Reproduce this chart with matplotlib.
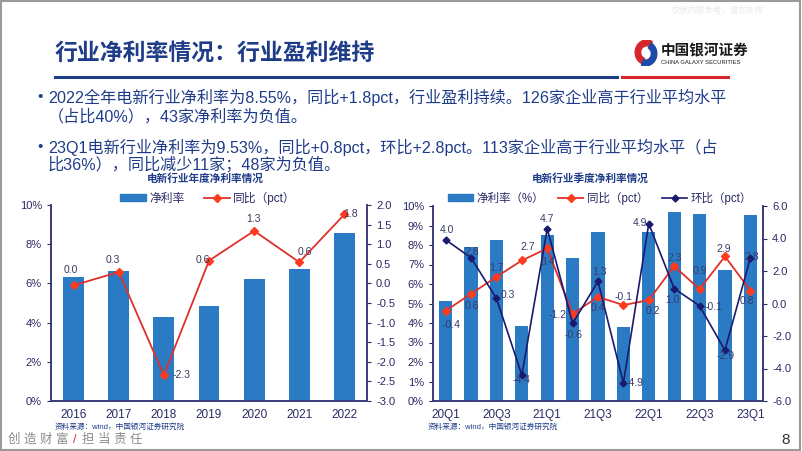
import numpy as np
import matplotlib.pyplot as plt
from matplotlib.lines import Line2D
from matplotlib.patches import Rectangle, Wedge, Patch

plt.rcParams['font.family'] = ['Liberation Sans', 'Noto Sans CJK SC', 'DejaVu Sans']

# annual data
years = ['2016', '2017', '2018', '2019', '2020', '2021', '2022']
year_margin = [6.34, 6.63, 4.29, 4.87, 6.22, 6.76, 8.55]
year_yoy = [-0.05, 0.29, -2.34, 0.58, 1.34, 0.54, 1.76]
year_yoy_text = ['0.0', '0.3', '-2.3', '0.6', '1.3', '0.6', '1.8']

# quarterly data
quarters = ['20Q1', '20Q2', '20Q3', '20Q4', '21Q1', '21Q2', '21Q3',
            '21Q4', '22Q1', '22Q2', '22Q3', '22Q4', '23Q1']
q_margin = [5.12, 7.91, 8.24, 3.85, 8.49, 7.31, 8.66, 3.77, 8.68, 9.67, 9.57, 6.70, 9.53]
q_yoy = [-0.45, 0.60, 1.64, 2.65, 3.39, -0.64, 0.41, -0.10, 0.21, 2.30, 0.88, 2.90, 0.80]
q_yoy_text = ['-0.4', '0.6', '1.7', '2.7', '3.4', '-0.6', '0.4', '-0.1', '0.2', '2.3', '0.9', '2.9', '0.8']
q_qoq = [3.92, 2.81, 0.31, -4.40, 4.60, -1.23, 1.36, -4.89, 4.91, 0.92, -0.14, -2.88, 2.79]
q_qoq_text = ['4.0', '2.8', '0.3', '-4.4', '4.7', '-1.2', '1.3', '-4.9', '4.9', '1.0', '-0.1', '-2.9', '2.8']

# label offsets in pixels (dx, dy), dy positive = up
year_off = [(-3, 15), (-6, 12), (18, 0), (-6, 1), (-1, 12), (6, 10), (6, 0)]
yoy_off = [(6, -14), (1, -12), (0, 9), (6, 13), (1, -14), (1, -21), (0, -11),
           (0, 8), (4, -11), (1, 8), (0, 18), (-1, 7), (-3, -10)]
qoq_off = [(1, 10), (1, 6), (11, 3), (0, -5), (0, 10), (-15, 8), (1, 9),
           (11, 0), (-9, 1), (-2, -11), (14, -1), (1, -6), (1, 1)]

W, H = 802, 451
navy = '#1F3C88'
axc = '#3B3B7A'
txt = '#2A2A66'
bar_c = '#2B7BC4'
red = '#E0302A'
dark = '#1A1A6E'


def fx(x):
    return x / W


def fy(y):
    return 1 - y / H


fig = plt.figure(figsize=(8.02, 4.51), dpi=100)

# slide frame
fig.add_artist(Rectangle((0.001, 0.002), 0.997, 0.995, transform=fig.transFigure,
                         fill=False, edgecolor='#9A9A9A', lw=1.5))

fig.text(fx(718), fy(11), '仅供内部参考，请勿外传', fontsize=6, color='#E8E8E8', ha='center', va='center')

# title and header lines
fig.text(fx(55), fy(53), '行业净利率情况：行业盈利维持', fontsize=16.5, fontweight='bold',
         color=navy, va='center')
fig.add_artist(Line2D([fx(55), fx(617)], [fy(77), fy(77)], color=navy, lw=2.2))
fig.add_artist(Line2D([fx(622), fx(728)], [fy(77), fy(77)], color='#D7262B', lw=2.2))

# logo
lax = fig.add_axes([fx(634), fy(66), fx(24), 26 / H])
lax.set_xlim(-1, 1)
lax.set_ylim(-1, 1)
lax.axis('off')
lax.add_patch(Wedge((0.05, 0.05), 0.95, 60, 250, width=0.45, color='#D7262B'))
lax.add_patch(Wedge((-0.05, -0.05), 0.95, 250, 420, width=0.45, color='#1F4AA8'))
fig.text(fx(661), fy(51), '中国银河证券', fontsize=10.5, fontweight='bold', color='#1A1A1A', va='center')
fig.text(fx(661), fy(62), 'CHINA GALAXY SECURITIES', fontsize=4.2, color='#1A1A1A', va='center')

# bullets
bullet_lines = [
    (97, True, '2022全年电新行业净利率为8.55%，同比+1.8pct，行业盈利持续。126家企业高于行业平均水平'),
    (117, False, '（占比40%），43家净利率为负值。'),
    (147, True, '23Q1电新行业净利率为9.53%，同比+0.8pct，环比+2.8pct。113家企业高于行业平均水平（占'),
    (164, False, '比36%），同比减少11家；48家为负值。'),
]
for y, has_bullet, s in bullet_lines:
    if has_bullet:
        fig.text(fx(40), fy(y), '•', fontsize=11, color=navy, va='center', ha='center')
    fig.text(fx(48), fy(y), s, fontsize=11.6, color=navy, va='center')

# chart titles
fig.text(fx(205), fy(178), '电新行业年度净利率情况', fontsize=7.7, fontweight='bold', color=navy,
         ha='center', va='center')
fig.text(fx(590), fy(178), '电新行业季度净利率情况', fontsize=7.7, fontweight='bold', color=navy,
         ha='center', va='center')


def style_axes(ax, ax2):
    for a in (ax, ax2):
        a.spines['top'].set_visible(False)
        for s in ('left', 'right', 'bottom'):
            a.spines[s].set_color(axc)
            a.spines[s].set_linewidth(1.2)
        a.tick_params(colors=txt, labelsize=8, length=3, width=0.8)
    ax.tick_params(axis='x', length=0, pad=6, labelsize=8.5)


# ---------- left chart: annual ----------
ax1 = fig.add_axes([fx(51), fy(401), fx(367 - 51), (401 - 205) / H])
x1 = np.arange(len(years))
ax1.bar(x1, year_margin, width=0.46, color=bar_c, zorder=2)
ax1.set_ylim(0, 10)
ax1.set_yticks(np.arange(0, 11, 2))
ax1.set_yticklabels([f'{v}%' for v in range(0, 11, 2)])
ax1.set_xlim(-0.5, len(years) - 0.5)
ax1.set_xticks(x1)
ax1.set_xticklabels(years)
ax1b = ax1.twinx()
ax1b.plot(x1, year_yoy, color=red, lw=1.3, marker='D', ms=4.5, mfc='#FF3B1F', mec='#FF3B1F', zorder=3)
ax1b.set_ylim(-3, 2)
ax1b.set_yticks(np.arange(-3, 2.01, 0.5))
ax1b.set_yticklabels([f'{v:.1f}' for v in np.arange(-3, 2.01, 0.5)])
style_axes(ax1, ax1b)
for xi, yi, s, off in zip(x1, year_yoy, year_yoy_text, year_off):
    ax1b.annotate(s, (xi, yi), xytext=off, textcoords='offset pixels', ha='center', va='center',
                  fontsize=7.5, color='#3A3A5A')

fig.legend(handles=[Patch(color=bar_c, label='净利率'),
                    Line2D([], [], color=red, lw=1.3, marker='D', ms=4, mfc='#FF3B1F', mec='#FF3B1F',
                           label='同比（pct）')],
           loc='center', bbox_to_anchor=(fx(208), fy(198)), ncol=2, frameon=False, fontsize=8.5,
           handlelength=2.2, handleheight=0.5, handletextpad=0.3, columnspacing=1.6, labelcolor=txt)

# ---------- right chart: quarterly ----------
ax2 = fig.add_axes([fx(433), fy(401), fx(763 - 433), (401 - 206) / H])
x2 = np.arange(len(quarters))
ax2.bar(x2, q_margin, width=0.52, color=bar_c, zorder=2)
ax2.set_ylim(0, 10)
ax2.set_yticks(np.arange(0, 11, 1))
ax2.set_yticklabels([f'{v}%' for v in range(0, 11)])
ax2.set_xlim(-0.5, len(quarters) - 0.5)
ax2.set_xticks(x2[::2])
ax2.set_xticklabels(quarters[::2])
ax2b = ax2.twinx()
ax2b.plot(x2, q_yoy, color=red, lw=1.3, marker='D', ms=4.5, mfc='#FF3B1F', mec='#FF3B1F', zorder=3)
ax2b.plot(x2, q_qoq, color=dark, lw=1.2, marker='D', ms=3.5, mfc=dark, mec=dark, zorder=3)
ax2b.set_ylim(-6, 6)
ax2b.set_yticks(np.arange(-6, 6.01, 2))
ax2b.set_yticklabels([f'{v:.1f}' for v in np.arange(-6, 6.01, 2)])
style_axes(ax2, ax2b)
for xi, yi, s, off in zip(x2, q_yoy, q_yoy_text, yoy_off):
    ax2b.annotate(s, (xi, yi), xytext=off, textcoords='offset pixels', ha='center', va='center',
                  fontsize=7.5, color='#3A3A6A')
for xi, yi, s, off in zip(x2, q_qoq, q_qoq_text, qoq_off):
    ax2b.annotate(s, (xi, yi), xytext=off, textcoords='offset pixels', ha='center', va='center',
                  fontsize=7.5, color='#3A3A6A')

fig.legend(handles=[Patch(color=bar_c, label='净利率（%）'),
                    Line2D([], [], color=red, lw=1.3, marker='D', ms=4, mfc='#FF3B1F', mec='#FF3B1F',
                           label='同比（pct）'),
                    Line2D([], [], color=dark, lw=1.2, marker='D', ms=3.5, label='环比（pct）')],
           loc='center', bbox_to_anchor=(fx(600), fy(198)), ncol=3, frameon=False, fontsize=8.3,
           handlelength=2.2, handleheight=0.5, handletextpad=0.3, columnspacing=1.2, labelcolor=txt)

# sources and footer
fig.text(fx(55), fy(427), '资料来源：wind，中国银河证券研究院', fontsize=5.5, color=navy, va='center')
fig.text(fx(428), fy(427), '资料来源：wind，中国银河证券研究院', fontsize=5.5, color=navy, va='center')
fig.text(fx(8), fy(440), '创 造 财 富', fontsize=9, color='#8C8C8C', va='center')
fig.text(fx(73), fy(440), '/', fontsize=9, color='#D7262B', va='center')
fig.text(fx(82), fy(440), '担 当 责 任', fontsize=9, color='#8C8C8C', va='center')
fig.text(fx(786), fy(440), '8', fontsize=11, color='#333333', va='center', ha='center')

fig.savefig('out.png', dpi=100)
